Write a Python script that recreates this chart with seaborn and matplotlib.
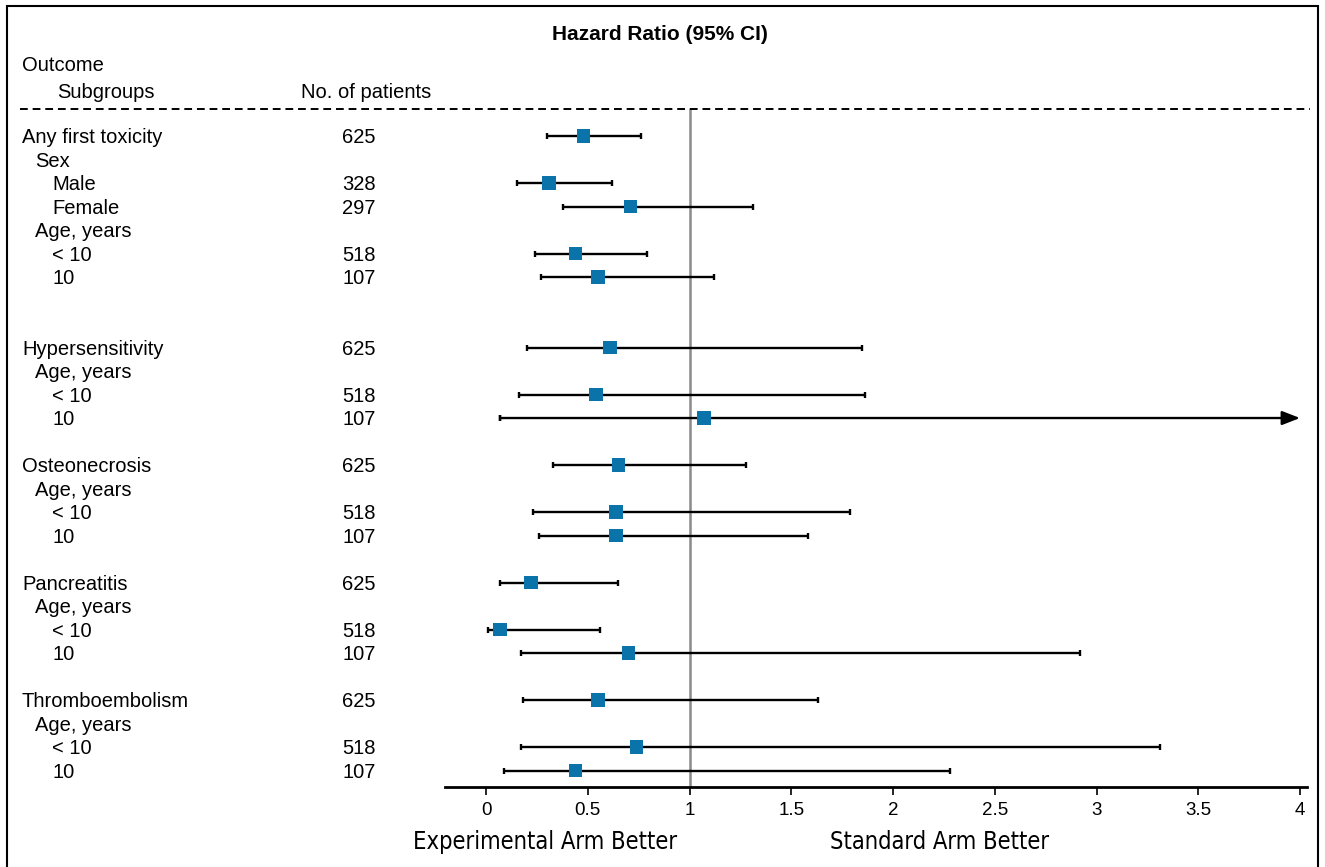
import numpy as np
import pandas as pd
import seaborn as sns
import matplotlib.pyplot as plt
from matplotlib import font_manager
from matplotlib.font_manager import FontProperties
from matplotlib.lines import Line2D
from matplotlib.patches import Rectangle
from matplotlib.transforms import blended_transform_factory

# --- Data ---
row_labels = ["Any first toxicity", "Sex", "Male", "Female", "Age, years", "< 10", "10",
              "", "",
              "Hypersensitivity", "Age, years", "< 10", "10", "",
              "Osteonecrosis", "Age, years", "< 10", "10", "",
              "Pancreatitis", "Age, years", "< 10", "10", "",
              "Thromboembolism", "Age, years", "< 10", "10"]
row_level = [0, 1, 2, 2, 1, 2, 2, 0, 0,
             0, 1, 2, 2, 0,
             0, 1, 2, 2, 0,
             0, 1, 2, 2, 0,
             0, 1, 2, 2]
n_patients = ["625", "", "328", "297", "", "518", "107", "", "",
              "625", "", "518", "107", "",
              "625", "", "518", "107", "",
              "625", "", "518", "107", "",
              "625", "", "518", "107"]
hr = [0.48, None, 0.31, 0.71, None, 0.44, 0.55, None, None,
      0.61, None, 0.54, 1.07, None,
      0.65, None, 0.64, 0.64, None,
      0.22, None, 0.07, 0.70, None,
      0.55, None, 0.74, 0.44]
ci_low = [0.30, None, 0.15, 0.38, None, 0.24, 0.27, None, None,
          0.20, None, 0.16, 0.07, None,
          0.33, None, 0.23, 0.26, None,
          0.07, None, 0.01, 0.17, None,
          0.18, None, 0.17, 0.09]
# np.inf = upper bound beyond the axis (drawn as an arrow)
ci_high = [0.76, None, 0.62, 1.31, None, 0.79, 1.12, None, None,
           1.85, None, 1.86, np.inf, None,
           1.28, None, 1.79, 1.58, None,
           0.65, None, 0.56, 2.92, None,
           1.63, None, 3.31, 2.28]
x_ticks = [0, 0.5, 1, 1.5, 2, 2.5, 3, 3.5, 4]
x_tick_labels = ["0", "0.5", "1", "1.5", "2", "2.5", "3", "3.5", "4"]

df = pd.DataFrame({"label": row_labels, "level": row_level, "n": n_patients,
                   "hr": hr, "lo": ci_low, "hi": ci_high})
df["row"] = np.arange(len(df))
est = df.dropna(subset=["hr"]).copy()
for c in ["hr", "lo", "hi"]:
    est[c] = est[c].astype(float)

sns.set_theme(style="white")
plt.rcParams["font.family"] = ["Liberation Sans", "DejaVu Sans"]
plt.rcParams["text.color"] = "black"
plt.rcParams["xtick.color"] = "black"

# condensed face for the direction labels: prefer Liberation Sans Narrow
fonts = font_manager.fontManager.ttflist
regular = lambda f: f.style == "normal" and f.weight in (400, "normal", "regular")
narrow = [f for f in fonts if f.name == "Liberation Sans Narrow" and regular(f)]
cond = [f for f in fonts if ("Condensed" in f.name or str(f.stretch) in ("condensed", "semi-condensed"))
        and regular(f)]
if narrow:
    dir_font = FontProperties(fname=narrow[0].fname, size=21)
elif cond:
    dir_font = FontProperties(fname=cond[0].fname, size=17)
else:
    dir_font = FontProperties(family="Liberation Sans", size=17.5)

W, H = 1325, 867
fig = plt.figure(figsize=(W / 100, H / 100), dpi=100)

# axes: x=0 at 486px, x=4 at 1300px; axis line from 445px to 1307px
px_per_unit = (1300 - 486) / 4
x0 = (445 - 486) / px_per_unit
x1 = (1307 - 486) / px_per_unit
ax = fig.add_axes([445 / W, 80 / H, (1307 - 445) / W, (787 - 23.2) / H])
ax.set_xlim(x0, x1)
ax.set_ylim(27.7, -4.8)

blue = "#0a74aa"

# reference line at HR = 1
ax.plot([1, 1], [-1.15, 27.7], color="#8a8a8a", lw=1.8, zorder=1, clip_on=False)

# confidence intervals
fin = est[np.isfinite(est["hi"])]
ax.errorbar(fin["hr"], fin["row"],
            xerr=[fin["hr"] - fin["lo"], fin["hi"] - fin["hr"]],
            fmt="none", ecolor="black", elinewidth=1.7, capsize=2.5, capthick=1.7, zorder=2)
open_rows = est[~np.isfinite(est["hi"])]
for _, r in open_rows.iterrows():
    ax.errorbar([r["lo"]], [r["row"]], xerr=[[0], [0]], fmt="none", ecolor="black",
                elinewidth=1.7, capsize=2.5, capthick=1.7, zorder=2)
    ax.annotate("", xy=(x_ticks[-1], r["row"]), xytext=(r["lo"], r["row"]),
                arrowprops=dict(arrowstyle="-|>,head_length=0.9,head_width=0.35",
                                color="black", lw=1.7, shrinkA=0, shrinkB=0), zorder=2)

# point estimates
sns.scatterplot(data=est, x="hr", y="row", marker="s", s=95, color=blue,
                edgecolor="none", ax=ax, zorder=3, legend=False)

# axis styling
for side in ["top", "right", "left"]:
    ax.spines[side].set_visible(False)
ax.spines["bottom"].set_color("black")
ax.spines["bottom"].set_linewidth(2)
ax.set_xticks(x_ticks)
ax.set_xticklabels(x_tick_labels, fontsize=13.5)
ax.tick_params(axis="x", direction="out", length=6, width=1.2, color="black", pad=5,
               bottom=True, labelcolor="black")
ax.set_yticks([])
ax.set_xlabel("")
ax.set_ylabel("")

# left-hand table text
fs = 14.5
dy = 0.07  # small downward nudge so text sits on the row like the reference
trans = blended_transform_factory(fig.transFigure, ax.transData)
indent = {0: 22, 1: 35, 2: 52}
for _, r in df.iterrows():
    if r["label"]:
        ax.text(indent[r["level"]] / W, r["row"] + dy, r["label"], transform=trans,
                fontsize=fs, va="center", ha="left", clip_on=False)
    if r["n"]:
        ax.text(359 / W, r["row"] + dy, r["n"], transform=trans,
                fontsize=fs, va="center", ha="center", clip_on=False)

# headers
ax.text(22 / W, -3.06 + dy, "Outcome", transform=trans, fontsize=fs, va="center")
ax.text(57 / W, -1.91 + dy, "Subgroups", transform=trans, fontsize=fs, va="center")
ax.text(301 / W, -1.91 + dy, "No. of patients", transform=trans, fontsize=fs, va="center")
ax.text(660 / W, -4.38 + dy, "Hazard Ratio (95% CI)", transform=trans, fontsize=15,
        fontweight="bold", va="center", ha="center")
ax.add_line(Line2D([20 / W, 1310 / W], [-1.15, -1.15], transform=trans, color="black",
                   lw=1.4, linestyle=(0, (4, 2.5)), clip_on=False))

# direction labels
fig.text(545 / W, 1 - 842 / H, "Experimental Arm Better", fontproperties=dir_font,
         ha="center", va="center")
fig.text(940 / W, 1 - 842 / H, "Standard Arm Better", fontproperties=dir_font,
         ha="center", va="center")

# frame around the figure
fig.add_artist(Rectangle((7 / W, -0.05), (1318 - 7) / W, 1.05 - 6 / H,
                         transform=fig.transFigure, fill=False, edgecolor="black", lw=1.5))

fig.savefig("out.png", dpi=100)
